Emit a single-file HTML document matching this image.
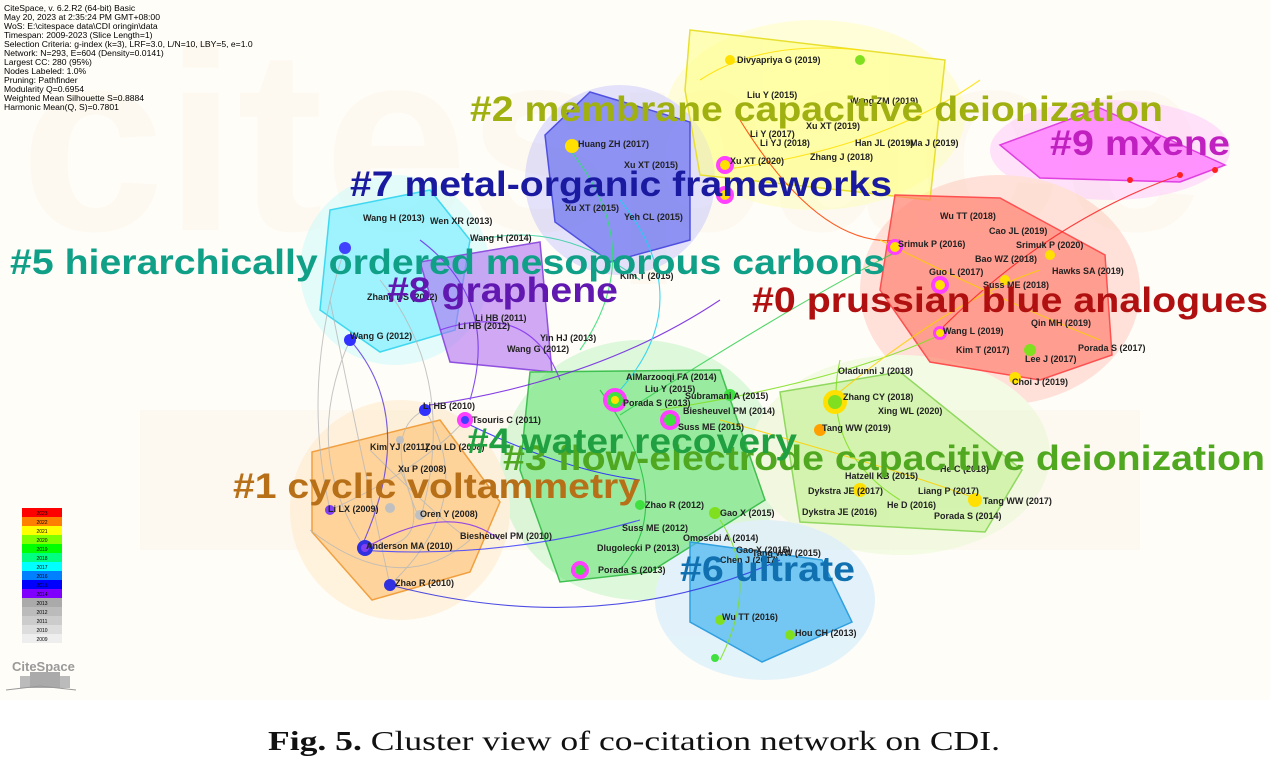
<!DOCTYPE html>
<html><head><meta charset="utf-8"><style>
html,body{margin:0;padding:0;background:#fff;}
svg{display:block;}
.info{font-family:"Liberation Sans",Arial,sans-serif;font-size:8.6px;fill:#000;}
.nl{font-family:"Liberation Sans",Arial,sans-serif;font-size:9px;font-weight:bold;fill:#222;}
.big{font-family:"Liberation Sans",Arial,sans-serif;font-weight:bold;font-size:35px;}
.lg{font-family:"Liberation Sans",Arial,sans-serif;font-size:5px;fill:#000;}
</style></head><body>
<svg width="1270" height="781" viewBox="0 0 1270 781" xmlns="http://www.w3.org/2000/svg">
<rect width="1270" height="781" fill="#fff"/>
<rect x="0" y="0" width="1270" height="700" fill="#fffdf8"/>
<text x="20" y="230" font-family="Liberation Sans,sans-serif" font-weight="bold" font-size="260" fill="#fdf9f0">citespace</text>
<rect x="140" y="410" width="1000" height="140" fill="#fcf6ec" opacity="0.6"/>

<!-- halos -->
<g opacity="0.35">
<ellipse cx="815" cy="115" rx="150" ry="95" fill="#ffffa0"/>
<ellipse cx="1110" cy="150" rx="120" ry="50" fill="#ffb0ff"/>
<ellipse cx="1000" cy="290" rx="140" ry="115" fill="#ffb0a0"/>
<ellipse cx="620" cy="180" rx="95" ry="95" fill="#b0b0ff"/>
<ellipse cx="395" cy="270" rx="95" ry="95" fill="#b0f8ff"/>
<ellipse cx="640" cy="470" rx="140" ry="130" fill="#a0f0a8"/>
<ellipse cx="900" cy="455" rx="150" ry="100" fill="#e0f8c0"/>
<ellipse cx="400" cy="510" rx="110" ry="110" fill="#ffe0b0"/>
<ellipse cx="765" cy="600" rx="110" ry="80" fill="#b0e0ff"/>
</g>

<!-- cluster hulls -->
<g stroke-width="1.5">
<polygon points="690,30 945,60 930,200 840,190 700,175 685,90" fill="#ffff80" fill-opacity="0.55" stroke="#e8e030"/>
<polygon points="1000,145 1100,108 1225,165 1180,182 1040,178" fill="#ff70ff" fill-opacity="0.7" stroke="#e040e0"/>
<polygon points="895,195 1000,198 1105,255 1112,355 1040,380 930,362 880,290" fill="#ff8070" fill-opacity="0.7" stroke="#ff5050"/>
<polygon points="545,135 590,92 690,122 690,240 610,262 555,222" fill="#6a70f0" fill-opacity="0.7" stroke="#5050e0"/>
<polygon points="330,210 430,190 470,240 455,330 380,352 320,310" fill="#80f0ff" fill-opacity="0.7" stroke="#40d8f0"/>
<polygon points="420,262 540,242 552,372 450,362" fill="#b070f0" fill-opacity="0.6" stroke="#9050e0"/>
<polygon points="530,372 720,370 765,500 650,572 560,582 520,470" fill="#60e070" fill-opacity="0.55" stroke="#40c050"/>
<polygon points="780,392 900,372 1022,470 985,532 800,522" fill="#c0f090" fill-opacity="0.6" stroke="#90d860"/>
<polygon points="312,452 440,420 500,502 470,572 372,600 312,532" fill="#ffc070" fill-opacity="0.6" stroke="#f0a040"/>
<polygon points="690,542 822,560 852,622 762,662 690,622" fill="#50b8f0" fill-opacity="0.75" stroke="#30a0e0"/>
</g>

<!-- gray edges -->
<g fill="none" stroke="#b8b8b8" stroke-width="1" opacity="0.8">
<path d="M330,300 Q360,450 390,585"/>
<path d="M350,340 Q300,450 365,548"/>
<path d="M425,410 Q480,500 390,585"/>
<path d="M370,450 Q440,520 470,540"/>
<path d="M330,510 Q420,470 465,420"/>
<path d="M400,470 Q440,550 365,548"/>
<path d="M345,248 Q300,380 330,510"/>
<path d="M420,520 Q380,430 425,410"/>
<path d="M380,280 Q460,380 420,520"/>
<path d="M310,530 Q400,600 470,540"/>
</g>

<!-- edges -->
<g fill="none" stroke-width="1.1" opacity="0.85">
<path d="M360,550 Q500,560 640,520" stroke="#4040ff"/>
<path d="M390,585 Q600,640 780,560" stroke="#3030e0"/>
<path d="M430,405 Q600,380 720,300" stroke="#7020e0"/>
<path d="M620,415 Q800,300 900,250" stroke="#30d050"/>
<path d="M660,410 Q850,380 950,330" stroke="#80e020"/>
<path d="M830,400 Q950,300 1040,270" stroke="#ffd000"/>
<path d="M720,420 Q900,470 980,500" stroke="#ffd000"/>
<path d="M940,330 Q1050,220 1180,175" stroke="#ff2020"/>
<path d="M720,170 Q880,150 980,80" stroke="#ffe000"/>
<path d="M620,200 Q700,300 620,390" stroke="#20d0f0"/>
<path d="M350,340 Q420,420 360,550" stroke="#6040e0"/>
<path d="M420,240 Q500,300 470,400" stroke="#7030f0"/>
<path d="M600,390 Q680,500 620,570" stroke="#20c040"/>
<path d="M720,520 Q760,580 720,660" stroke="#80e020"/>
<path d="M840,360 Q820,450 900,500" stroke="#80e020"/>
<path d="M570,150 Q650,250 580,350" stroke="#30e070"/>
<path d="M740,120 Q820,250 900,240" stroke="#ff4000"/>
<path d="M880,240 Q1000,300 1100,340" stroke="#ffd000"/>
<path d="M460,420 Q560,470 640,480" stroke="#2020ff"/>
<path d="M700,80 Q760,40 860,50" stroke="#ffe000"/>
<path d="M480,240 Q560,220 640,280" stroke="#30d0a0"/>
<path d="M365,548 Q450,500 500,540" stroke="#8030f0"/>
<path d="M440,330 Q530,300 560,380" stroke="#8030f0"/>
</g>

<!-- nodes -->
<g>
<circle cx="615" cy="400" r="12" fill="#ff40ff"/><circle cx="615" cy="400" r="8" fill="#40e040"/><circle cx="615" cy="400" r="4" fill="#ffe000"/>
<circle cx="835" cy="402" r="12" fill="#ffe000"/><circle cx="835" cy="402" r="7" fill="#80e020"/>
<circle cx="670" cy="420" r="10" fill="#ff40ff"/><circle cx="670" cy="420" r="6" fill="#40e040"/>
<circle cx="895" cy="247" r="8" fill="#ff40ff"/><circle cx="895" cy="247" r="5" fill="#ffe000"/>
<circle cx="940" cy="285" r="9" fill="#ff40ff"/><circle cx="940" cy="285" r="5" fill="#ffe000"/>
<circle cx="940" cy="333" r="7" fill="#ff40ff"/><circle cx="940" cy="333" r="4" fill="#ffe000"/>
<circle cx="725" cy="165" r="9" fill="#ff40ff"/><circle cx="725" cy="165" r="5" fill="#ffe000"/>
<circle cx="725" cy="195" r="9" fill="#ff40ff"/><circle cx="725" cy="195" r="5" fill="#ffe000"/>
<circle cx="572" cy="146" r="7" fill="#ffe000"/>
<circle cx="465" cy="420" r="8" fill="#ff40ff"/><circle cx="465" cy="420" r="4" fill="#4040ff"/>
<circle cx="365" cy="548" r="8" fill="#3030e0"/><circle cx="365" cy="548" r="4" fill="#8040f0"/>
<circle cx="390" cy="585" r="6" fill="#3030e0"/>
<circle cx="580" cy="570" r="9" fill="#ff40ff"/><circle cx="580" cy="570" r="5" fill="#40e040"/>
<circle cx="715" cy="513" r="6" fill="#80e020"/>
<circle cx="730" cy="395" r="6" fill="#40e040"/>
<circle cx="640" cy="505" r="5" fill="#40e040"/>
<circle cx="860" cy="490" r="7" fill="#ffe000"/>
<circle cx="975" cy="500" r="7" fill="#ffe000"/>
<circle cx="1015" cy="378" r="6" fill="#ffe000"/>
<circle cx="1030" cy="350" r="6" fill="#80e020"/>
<circle cx="820" cy="430" r="6" fill="#ffa000"/>
<circle cx="350" cy="340" r="6" fill="#3030ff"/>
<circle cx="345" cy="248" r="6" fill="#4040ff"/>
<circle cx="425" cy="410" r="6" fill="#3030ff"/>
<circle cx="330" cy="510" r="5" fill="#8040f0"/>
<circle cx="390" cy="508" r="5" fill="#c0c0c0"/><circle cx="420" cy="515" r="5" fill="#c0c0c0"/><circle cx="400" cy="440" r="4" fill="#c0c0c0"/>
<circle cx="720" cy="620" r="5" fill="#80e020"/>
<circle cx="790" cy="635" r="5" fill="#80e020"/>
<circle cx="715" cy="658" r="4" fill="#40e040"/>
<circle cx="1180" cy="175" r="3" fill="#ff2020"/><circle cx="1130" cy="180" r="3" fill="#ff2020"/><circle cx="1215" cy="170" r="3" fill="#ff2020"/>
<circle cx="1050" cy="255" r="5" fill="#ffe000"/><circle cx="1005" cy="280" r="5" fill="#ffe000"/>
<circle cx="730" cy="60" r="5" fill="#ffe000"/><circle cx="860" cy="60" r="5" fill="#80e020"/>
</g>

<!-- node labels -->
<g class="nl">
<text x="737" y="63">Divyapriya G (2019)</text>
<text x="747" y="98">Liu Y (2015)</text><text x="850" y="104">Wang ZM (2019)</text>
<text x="806" y="129">Xu XT (2019)</text><text x="750" y="137">Li Y (2017)</text>
<text x="760" y="146">Li YJ (2018)</text><text x="855" y="146">Han JL (2019)</text><text x="910" y="146">Ma J (2019)</text>
<text x="578" y="147">Huang ZH (2017)</text><text x="810" y="160">Zhang J (2018)</text>
<text x="730" y="164">Xu XT (2020)</text><text x="624" y="168">Xu XT (2015)</text>
<text x="565" y="211">Xu XT (2015)</text><text x="624" y="220">Yeh CL (2015)</text>
<text x="363" y="221">Wang H (2013)</text><text x="430" y="224">Wen XR (2013)</text>
<text x="470" y="241">Wang H (2014)</text><text x="940" y="219">Wu TT (2018)</text>
<text x="989" y="234">Cao JL (2019)</text><text x="898" y="247">Srimuk P (2016)</text><text x="1016" y="248">Srimuk P (2020)</text>
<text x="975" y="262">Bao WZ (2018)</text><text x="1052" y="274">Hawks SA (2019)</text>
<text x="929" y="275">Guo L (2017)</text><text x="620" y="279">Kim T (2015)</text>
<text x="983" y="288">Suss ME (2018)</text><text x="367" y="300">Zhang DS (2012)</text>
<text x="475" y="321">Li HB (2011)</text><text x="458" y="329">Li HB (2012)</text>
<text x="1031" y="326">Qin MH (2019)</text><text x="350" y="339">Wang G (2012)</text>
<text x="540" y="341">Yin HJ (2013)</text><text x="943" y="334">Wang L (2019)</text>
<text x="507" y="352">Wang G (2012)</text><text x="1078" y="351">Porada S (2017)</text>
<text x="956" y="353">Kim T (2017)</text><text x="1025" y="362">Lee J (2017)</text>
<text x="626" y="380">AlMarzooqi FA (2014)</text><text x="838" y="374">Oladunni J (2018)</text>
<text x="1012" y="385">Choi J (2019)</text><text x="645" y="392">Liu Y (2015)</text>
<text x="685" y="399">Subramani A (2015)</text><text x="623" y="406">Porada S (2013)</text>
<text x="843" y="400">Zhang CY (2018)</text><text x="423" y="409">Li HB (2010)</text>
<text x="683" y="414">Biesheuvel PM (2014)</text><text x="878" y="414">Xing WL (2020)</text>
<text x="472" y="423">Tsouris C (2011)</text><text x="678" y="430">Suss ME (2015)</text>
<text x="822" y="431">Tang WW (2019)</text><text x="370" y="450">Kim YJ (2011)</text><text x="425" y="450">Zou LD (2008)</text>
<text x="940" y="472">He C (2018)</text><text x="398" y="472">Xu P (2008)</text>
<text x="845" y="479">Hatzell KB (2015)</text><text x="808" y="494">Dykstra JE (2017)</text>
<text x="918" y="494">Liang P (2017)</text><text x="983" y="504">Tang WW (2017)</text>
<text x="645" y="508">Zhao R (2012)</text><text x="887" y="508">He D (2016)</text>
<text x="328" y="512">Li LX (2009)</text><text x="720" y="516">Gao X (2015)</text>
<text x="802" y="515">Dykstra JE (2016)</text><text x="934" y="519">Porada S (2014)</text>
<text x="420" y="517">Oren Y (2008)</text><text x="622" y="531">Suss ME (2012)</text>
<text x="460" y="539">Biesheuvel PM (2010)</text><text x="683" y="541">Omosebi A (2014)</text>
<text x="366" y="549">Anderson MA (2010)</text><text x="597" y="551">Dlugolecki P (2013)</text>
<text x="736" y="553">Gao X (2015)</text><text x="752" y="556">Tang WW (2015)</text>
<text x="720" y="563">Chen J (2017)</text><text x="598" y="573">Porada S (2013)</text>
<text x="395" y="586">Zhao R (2010)</text><text x="795" y="636">Hou CH (2013)</text>
<text x="722" y="620">Wu TT (2016)</text>
</g>

<!-- cluster labels -->
<g class="big">
<text x="470" y="121" fill="#a0b010" textLength="693" lengthAdjust="spacingAndGlyphs">#2 membrane capacitive deionization</text>
<text x="1050" y="155" fill="#c020c0" textLength="180" lengthAdjust="spacingAndGlyphs">#9 mxene</text>
<text x="350" y="196" fill="#1a1aa0" textLength="542" lengthAdjust="spacingAndGlyphs">#7 metal-organic frameworks</text>
<text x="10" y="274" fill="#10a088" textLength="875" lengthAdjust="spacingAndGlyphs">#5 hierarchically ordered mesoporous carbons</text>
<text x="387" y="302" fill="#6018b0" textLength="231" lengthAdjust="spacingAndGlyphs">#8 graphene</text>
<text x="752" y="312" fill="#b01010" textLength="516" lengthAdjust="spacingAndGlyphs">#0 prussian blue analogues</text>
<text x="503" y="470" fill="#50a820" textLength="762" lengthAdjust="spacingAndGlyphs">#3 flow-electrode capacitive deionization</text>
<text x="467" y="453" fill="#20a040" textLength="330" lengthAdjust="spacingAndGlyphs">#4 water recovery</text>
<text x="233" y="498" fill="#b87018" textLength="407" lengthAdjust="spacingAndGlyphs">#1 cyclic voltammetry</text>
<text x="680" y="581" fill="#1070b0" textLength="175" lengthAdjust="spacingAndGlyphs">#6 ultrate</text>
</g>

<!-- info text -->
<g class="info">
<text x="4" y="11">CiteSpace, v. 6.2.R2 (64-bit) Basic</text>
<text x="4" y="20">May 20, 2023 at 2:35:24 PM GMT+08:00</text>
<text x="4" y="29">WoS: E:\citespace data\CDI oringin\data</text>
<text x="4" y="38">Timespan: 2009-2023 (Slice Length=1)</text>
<text x="4" y="47">Selection Criteria: g-index (k=3), LRF=3.0, L/N=10, LBY=5, e=1.0</text>
<text x="4" y="56">Network: N=293, E=604 (Density=0.0141)</text>
<text x="4" y="65">Largest CC: 280 (95%)</text>
<text x="4" y="74">Nodes Labeled: 1.0%</text>
<text x="4" y="83">Pruning: Pathfinder</text>
<text x="4" y="92">Modularity Q=0.6954</text>
<text x="4" y="101">Weighted Mean Silhouette S=0.8884</text>
<text x="4" y="110">Harmonic Mean(Q, S)=0.7801</text>
</g>

<!-- legend -->
<g>
<rect x="22" y="508" width="40" height="9" fill="#ff0000"/>
<rect x="22" y="517" width="40" height="9" fill="#ff8000"/>
<rect x="22" y="526" width="40" height="9" fill="#ffff00"/>
<rect x="22" y="535" width="40" height="9" fill="#80ff00"/>
<rect x="22" y="544" width="40" height="9" fill="#00ff00"/>
<rect x="22" y="553" width="40" height="9" fill="#00ff80"/>
<rect x="22" y="562" width="40" height="9" fill="#00ffff"/>
<rect x="22" y="571" width="40" height="9" fill="#0080ff"/>
<rect x="22" y="580" width="40" height="9" fill="#0000ff"/>
<rect x="22" y="589" width="40" height="9" fill="#8000ff"/>
<rect x="22" y="598" width="40" height="9" fill="#aaaaaa"/>
<rect x="22" y="607" width="40" height="9" fill="#bbbbbb"/>
<rect x="22" y="616" width="40" height="9" fill="#cccccc"/>
<rect x="22" y="625" width="40" height="9" fill="#dddddd"/>
<rect x="22" y="634" width="40" height="9" fill="#eeeeee"/>
<g class="lg" text-anchor="middle">
<text x="42" y="515">2023</text><text x="42" y="524">2022</text><text x="42" y="533">2021</text><text x="42" y="542">2020</text><text x="42" y="551">2019</text><text x="42" y="560">2018</text><text x="42" y="569">2017</text><text x="42" y="578">2016</text><text x="42" y="587">2015</text><text x="42" y="596">2014</text><text x="42" y="605">2013</text><text x="42" y="614">2012</text><text x="42" y="623">2011</text><text x="42" y="632">2010</text><text x="42" y="641">2009</text>
</g>
<text x="12" y="671" font-family="Liberation Sans,sans-serif" font-weight="bold" font-size="13" fill="#999">CiteSpace</text>
<rect x="20" y="676" width="50" height="12" fill="#bbb"/>
<rect x="30" y="672" width="30" height="16" fill="#aaa"/>
<path d="M6,690 L40,686 L76,690" stroke="#999" fill="none"/>
</g>

<!-- caption -->
<text x="268" y="750" textLength="732" lengthAdjust="spacingAndGlyphs" font-family="Liberation Serif,serif" font-size="27" fill="#111"><tspan font-weight="bold">Fig. 5.</tspan> Cluster view of co-citation network on CDI.</text>
</svg>
</body></html>
